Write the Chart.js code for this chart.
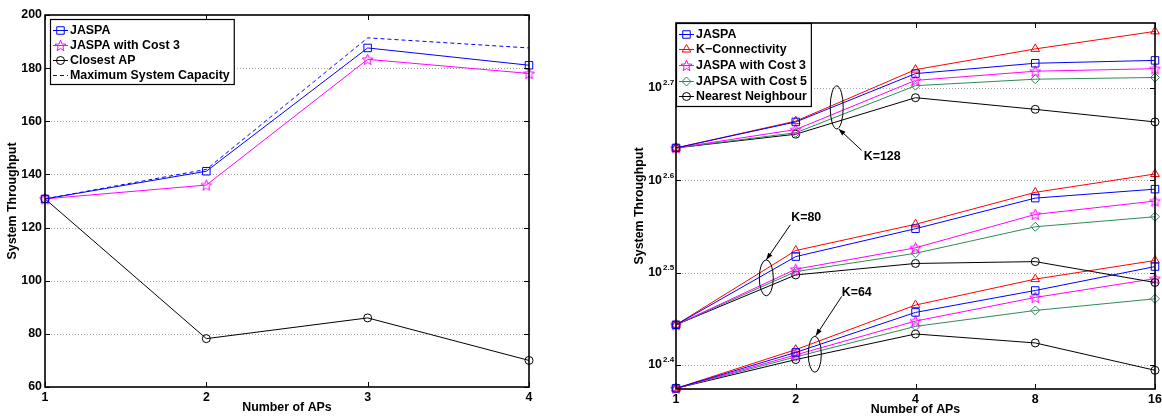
<!DOCTYPE html>
<html>
<head>
<meta charset="utf-8">
<script src="https://cdn.jsdelivr.net/npm/chart.js@4.4.0/dist/chart.umd.min.js"></script>
<style>
  html, body { margin: 0; padding: 0; background: #fff; }
  #wrap { position: relative; width: 1162px; height: 417px; overflow: hidden; }
  #leftChart { position: absolute; left: 0; top: 0; }
  #rightChart { position: absolute; left: 600px; top: 0; }
</style>
</head>
<body>
<div id="wrap">
  <canvas id="leftChart" width="600" height="417"></canvas>
  <canvas id="rightChart" width="562" height="417"></canvas>
</div>
<script>
// Left panel: throughput vs number of APs
const apsLeft = ['1', '2', '3', '4'];
const jaspaLeft = [130.8, 141.2, 187.6, 181.1];
const jaspaCost3Left = [130.8, 136.0, 183.3, 178.0];
const closestAp = [130.8, 78.2, 86.0, 70.0];
const maxCapacity = [130.8, 141.9, 191.4, 187.6];
const leftYTicks = [60, 80, 100, 120, 140, 160, 180, 200];

// Right panel: log-log style, three user counts
const apsRight = ['1', '2', '4', '8', '16'];
const logTickExps = ['2.4', '2.5', '2.6', '2.7'];

const k128Jaspa = [431.7, 460.6, 519.6, 533.2, 537.0];
const k128KConn = [431.7, 461.5, 524.8, 552.6, 577.3];
const k128Cost3 = [431.7, 451.9, 510.9, 522.7, 526.0];
const k128Cost5 = [431.7, 448.3, 504.2, 512.4, 514.6];
const k128Nearest = [431.7, 446.7, 489.3, 475.3, 460.6];

const k80Jaspa = [277.7, 329.2, 352.9, 380.9, 389.5];
const k80KConn = [277.7, 334.2, 356.8, 386.4, 404.5];
const k80Cost3 = [277.7, 319.0, 336.5, 365.7, 378.1];
const k80Cost5 = [277.7, 317.1, 331.9, 354.6, 363.6];
const k80Nearest = [277.7, 314.5, 323.6, 325.1, 308.6];

const k64Jaspa = [237.0, 259.2, 286.4, 302.5, 321.1];
const k64KConn = [237.0, 261.0, 291.7, 311.2, 326.0];
const k64Cost3 = [237.0, 257.6, 280.3, 297.3, 311.6];
const k64Cost5 = [237.0, 256.3, 276.6, 287.8, 296.3];
const k64Nearest = [237.0, 254.6, 271.4, 265.4, 247.9];

const FONT = '"Liberation Sans", Arial, Helvetica, sans-serif';
const FS = 12.4;
Chart.defaults.font.family = FONT;
Chart.defaults.font.weight = 'bold';
Chart.defaults.font.size = FS;
Chart.defaults.color = '#000';

const BLUE = '#0000ff', RED = '#ff0000', MAGENTA = '#ff00ff', GREEN = '#2e8b57', BLACK = '#000000';

// 5-point star marker (Chart.js "star" is an asterisk)
function makeStar(color) {
    const c = document.createElement('canvas');
    c.width = 13; c.height = 13;
    const g = c.getContext('2d');
    g.strokeStyle = color;
    g.lineWidth = 1;
    g.beginPath();
    for (let i = 0; i < 10; i++) {
        const r = i % 2 === 0 ? 5.8 : 2.5;
        const a = -Math.PI / 2 + i * Math.PI / 5;
        const px = 6.5 + r * Math.cos(a), py = 7 + r * Math.sin(a);
        if (i === 0) g.moveTo(px, py); else g.lineTo(px, py);
    }
    g.closePath();
    g.stroke();
    return c;
}

const markers = {
    square: { style: 'rect', radius: 5.3 },
    triangle: { style: 'triangle', radius: 5 },
    star: { style: makeStar(MAGENTA), radius: 6 },
    diamond: { style: 'rectRot', radius: 4.5 },
    circle: { style: 'circle', radius: 4 },
    none: { style: false, radius: 0 }
};

function series(label, data, color, marker, extra) {
    return Object.assign({
        label: label,
        data: data,
        borderColor: color,
        backgroundColor: 'rgba(0,0,0,0)',
        borderWidth: 1,
        pointStyle: marker.style,
        pointRadius: marker.radius,
        pointHoverRadius: marker.radius,
        pointBorderColor: color,
        pointBorderWidth: 1,
        pointBackgroundColor: 'rgba(0,0,0,0)',
        tension: 0,
        fill: false,
        clip: false,
        marker: marker
    }, extra || {});
}

function drawMarker(ctx, marker, x, y, color) {
    if (!marker.style) return;
    ctx.save();
    ctx.setLineDash([]);
    ctx.strokeStyle = color;
    ctx.lineWidth = 1;
    const s = marker.style, r = marker.radius;
    if (s instanceof HTMLCanvasElement) {
        ctx.drawImage(s, x - s.width / 2, y - s.height / 2);
        ctx.restore();
        return;
    }
    ctx.beginPath();
    if (s === 'circle') {
        ctx.arc(x, y, r, 0, Math.PI * 2);
    } else if (s === 'rect') {
        const h = r * Math.SQRT1_2;
        ctx.rect(x - h, y - h, 2 * h, 2 * h);
    } else if (s === 'rectRot') {
        ctx.moveTo(x, y - r); ctx.lineTo(x + r, y); ctx.lineTo(x, y + r); ctx.lineTo(x - r, y);
        ctx.closePath();
    } else if (s === 'triangle') {
        for (let k = 0; k < 3; k++) {
            const a = -Math.PI / 2 + k * 2 * Math.PI / 3;
            if (k === 0) ctx.moveTo(x + r * Math.cos(a), y + r * Math.sin(a));
            else ctx.lineTo(x + r * Math.cos(a), y + r * Math.sin(a));
        }
        ctx.closePath();
    }
    ctx.stroke();
    ctx.restore();
}

// Dotted grid, box and inward tick marks, MATLAB style
const framePlugin = {
    id: 'frame',
    beforeDatasetsDraw(chart) {
        const ctx = chart.ctx, a = chart.chartArea, ys = chart.scales.y;
        ctx.save();
        ctx.strokeStyle = '#a8a8a8';
        ctx.lineWidth = 1;
        ctx.setLineDash([1, 2]);
        ys.ticks.forEach((t, i) => {
            const py = Math.round(ys.getPixelForTick(i)) + 0.5;
            if (py < a.top + 2 || py > a.bottom - 2) return;
            ctx.beginPath();
            ctx.moveTo(a.left, py);
            ctx.lineTo(a.right, py);
            ctx.stroke();
        });
        ctx.restore();
    },
    afterDatasetsDraw(chart) {
        const ctx = chart.ctx, a = chart.chartArea;
        const xs = chart.scales.x, ys = chart.scales.y;
        const len = 5;
        ctx.save();
        ctx.strokeStyle = '#000';
        ctx.lineWidth = 1;
        ctx.beginPath();
        xs.ticks.forEach((t, i) => {
            const px = Math.round(xs.getPixelForTick(i)) + 0.5;
            ctx.moveTo(px, a.bottom); ctx.lineTo(px, a.bottom - len);
            ctx.moveTo(px, a.top); ctx.lineTo(px, a.top + len);
        });
        ys.ticks.forEach((t, i) => {
            const py = Math.round(ys.getPixelForTick(i)) + 0.5;
            ctx.moveTo(a.left, py); ctx.lineTo(a.left + len, py);
            ctx.moveTo(a.right, py); ctx.lineTo(a.right - len, py);
        });
        ctx.stroke();
        ctx.lineWidth = 1.6;
        ctx.strokeRect(a.left, a.top, a.right - a.left, a.bottom - a.top);
        ctx.restore();
    }
};

// Legend drawn inside the plot area with a box around it
function boxLegend(count, dx, dy, row) {
    return {
        id: 'boxLegend',
        afterDraw(chart) {
            const ctx = chart.ctx, a = chart.chartArea;
            const items = chart.data.datasets.slice(0, count);
            ctx.save();
            ctx.font = 'bold ' + FS + 'px ' + FONT;
            let w = 0;
            items.forEach(it => { w = Math.max(w, ctx.measureText(it.label).width); });
            const x = a.left + dx, y = a.top + dy;
            const bw = w + 24, bh = items.length * row + 5;
            ctx.fillStyle = '#fff';
            ctx.fillRect(x, y, bw, bh);
            ctx.strokeStyle = '#000';
            ctx.lineWidth = 1.2;
            ctx.strokeRect(x + 0.5, y + 0.5, bw, bh);
            items.forEach((it, i) => {
                const cy = Math.round(y + 3 + row * (i + 0.5)) + 0.5;
                ctx.strokeStyle = it.borderColor;
                ctx.lineWidth = 1;
                ctx.setLineDash(it.borderDash || []);
                ctx.beginPath();
                ctx.moveTo(x + 3, cy);
                ctx.lineTo(x + 18, cy);
                ctx.stroke();
                ctx.setLineDash([]);
                drawMarker(ctx, it.marker, x + 10.5, cy, it.borderColor);
                ctx.fillStyle = '#000';
                ctx.textBaseline = 'middle';
                ctx.textAlign = 'left';
                ctx.fillText(it.label, x + 20, cy);
            });
            ctx.restore();
        }
    };
}

// keep the plot box where it is even when the last tick label overflows
function fixedX(h) {
    return s => { s.height = h; s.paddingLeft = 0; s.paddingRight = 0; };
}

const tickFont = { size: FS, weight: 'bold' };

// ---------- Left chart ----------
new Chart(document.getElementById('leftChart'), {
    type: 'line',
    data: {
        labels: apsLeft,
        datasets: [
            series('JASPA', jaspaLeft, BLUE, markers.square),
            series('JASPA with Cost 3', jaspaCost3Left, MAGENTA, markers.star),
            series('Closest AP', closestAp, BLACK, markers.circle),
            series('Maximum System Capacity', maxCapacity, BLUE, markers.none, { borderDash: [4, 3] })
        ]
    },
    options: {
        responsive: false,
        animation: false,
        devicePixelRatio: 1,
        layout: { padding: { left: 0, right: 71, top: 15, bottom: 0 } },
        plugins: { legend: { display: false }, tooltip: { enabled: false } },
        scales: {
            x: {
                offset: false,
                grid: { display: false, drawTicks: false },
                border: { display: false },
                ticks: { padding: 3, color: '#000', font: tickFont },
                title: { display: true, text: 'Number of APs', color: '#000', font: tickFont, padding: { top: 0, bottom: 2 } },
                afterFit: fixedX(30)
            },
            y: {
                min: 60,
                max: 200,
                afterBuildTicks: axis => { axis.ticks = leftYTicks.map(v => ({ value: v })); },
                grid: { display: false, drawTicks: false },
                border: { display: false },
                ticks: { padding: 3, color: '#000', font: tickFont },
                title: { display: true, text: 'System Throughput', color: '#000', font: tickFont, padding: { top: 5, bottom: 0 } },
                afterFit: s => { s.width = 45; }
            }
        }
    },
    plugins: [framePlugin, boxLegend(4, 5, 4, 15)]
});

// ---------- Right chart ----------
const groupNotes = [
    { text: 'K=128', at: [1.342, 477.6], rx: 6.5, ry: 21.5, tail: [25, 43], head: [2, 21.5], label: [27, 49] },
    { text: 'K=80', at: [0.754, 312.2], rx: 7, ry: 18, tail: [24, -53], head: [0, -18], label: [25, -60] },
    { text: 'K=64', at: [1.159, 258.0], rx: 6.5, ry: 18, tail: [27, -58], head: [1, -18.5], label: [27, -62] }
];

const notesPlugin = {
    id: 'notes',
    afterDatasetsDraw(chart) {
        const ctx = chart.ctx, xs = chart.scales.x, ys = chart.scales.y;
        ctx.save();
        ctx.strokeStyle = '#000';
        ctx.fillStyle = '#000';
        ctx.lineWidth = 1;
        groupNotes.forEach(n => {
            const cx = xs.getPixelForValue(n.at[0]);
            const cy = ys.getPixelForValue(n.at[1]);
            ctx.beginPath();
            ctx.ellipse(cx, cy, n.rx, n.ry, 0, 0, Math.PI * 2);
            ctx.stroke();
            const tx = cx + n.tail[0], ty = cy + n.tail[1];
            const hx = cx + n.head[0], hy = cy + n.head[1];
            ctx.beginPath();
            ctx.moveTo(tx, ty);
            ctx.lineTo(hx, hy);
            ctx.stroke();
            const ang = Math.atan2(hy - ty, hx - tx);
            ctx.beginPath();
            ctx.moveTo(hx, hy);
            ctx.lineTo(hx - 7 * Math.cos(ang) + 2.5 * Math.sin(ang), hy - 7 * Math.sin(ang) - 2.5 * Math.cos(ang));
            ctx.lineTo(hx - 7 * Math.cos(ang) - 2.5 * Math.sin(ang), hy - 7 * Math.sin(ang) + 2.5 * Math.cos(ang));
            ctx.closePath();
            ctx.fill();
            ctx.font = 'bold ' + FS + 'px ' + FONT;
            ctx.textAlign = 'left';
            ctx.textBaseline = 'middle';
            ctx.fillText(n.text, cx + n.label[0], cy + n.label[1]);
        });
        ctx.restore();
    }
};

// superscript exponents next to the "10" tick labels
const exponentPlugin = {
    id: 'exponents',
    afterDraw(chart) {
        const ctx = chart.ctx, ys = chart.scales.y, a = chart.chartArea;
        ctx.save();
        ctx.font = 'bold 8px ' + FONT;
        ctx.fillStyle = '#000';
        ctx.textAlign = 'left';
        ctx.textBaseline = 'middle';
        ys.ticks.forEach((t, i) => {
            ctx.fillText(logTickExps[i], a.left - 13, ys.getPixelForTick(i) - 5);
        });
        ctx.restore();
    }
};

function group(j, kc, c3, c5, nn) {
    return [
        series('JASPA', j, BLUE, markers.square),
        series('K\u2212Connectivity', kc, RED, markers.triangle),
        series('JASPA with Cost 3', c3, MAGENTA, markers.star),
        series('JAPSA with Cost 5', c5, GREEN, markers.diamond),
        series('Nearest Neighbour', nn, BLACK, markers.circle)
    ];
}

new Chart(document.getElementById('rightChart'), {
    type: 'line',
    data: {
        labels: apsRight,
        datasets: [].concat(
            group(k128Jaspa, k128KConn, k128Cost3, k128Cost5, k128Nearest),
            group(k80Jaspa, k80KConn, k80Cost3, k80Cost5, k80Nearest),
            group(k64Jaspa, k64KConn, k64Cost3, k64Cost5, k64Nearest)
        )
    },
    options: {
        responsive: false,
        animation: false,
        devicePixelRatio: 1,
        layout: { padding: { left: 0, right: 1, top: 23, bottom: 0 } },
        plugins: { legend: { display: false }, tooltip: { enabled: false } },
        scales: {
            x: {
                offset: false,
                grid: { display: false, drawTicks: false },
                border: { display: false },
                ticks: { padding: 3, color: '#000', font: tickFont },
                title: { display: true, text: 'Number of APs', color: '#000', font: tickFont, padding: { top: 0, bottom: 0 } },
                afterFit: fixedX(28)
            },
            y: {
                type: 'logarithmic',
                min: 236.6,
                max: 589.5,
                bounds: 'data',
                afterBuildTicks: axis => { axis.ticks = logTickExps.map(e => ({ value: Math.pow(10, parseFloat(e)) })); },
                grid: { display: false, drawTicks: false },
                border: { display: false },
                ticks: { padding: 14, autoSkip: false, color: '#000', font: tickFont, callback: () => '10' },
                title: { display: true, text: 'System Throughput', color: '#000', font: tickFont, padding: { top: 32, bottom: 0 } },
                afterFit: s => { s.width = 76; }
            }
        }
    },
    plugins: [framePlugin, notesPlugin, boxLegend(5, 0, 0, 15.6), exponentPlugin]
});
</script>
</body>
</html>
